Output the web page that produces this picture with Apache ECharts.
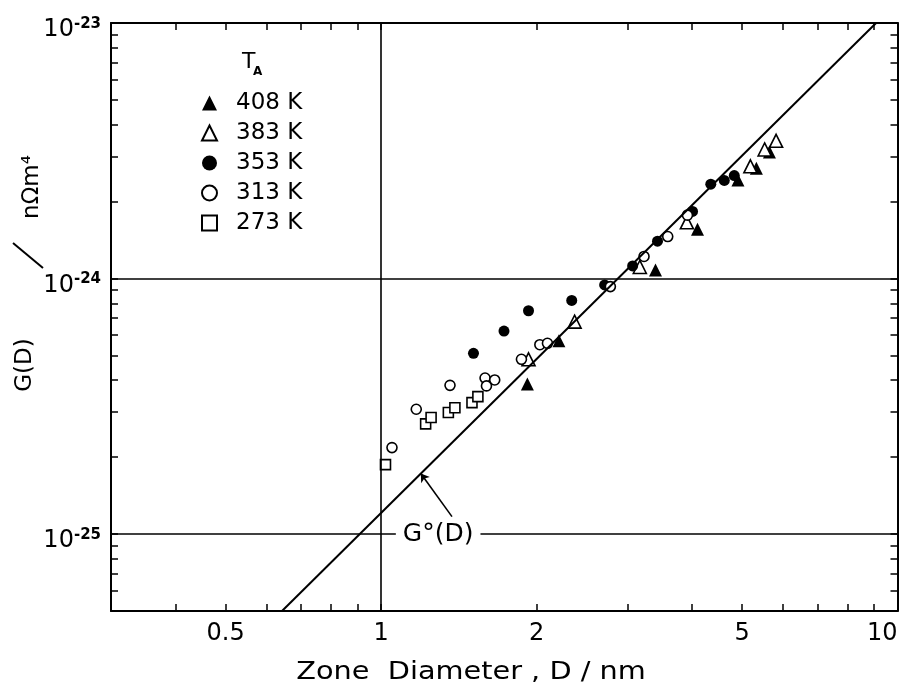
<!DOCTYPE html>
<html>
<head>
<meta charset="utf-8">
<script src="https://cdn.jsdelivr.net/npm/echarts@6/dist/echarts.min.js"></script>
<style>
  html, body { margin: 0; padding: 0; background: #fff; }
  #chart { width: 906px; height: 694px; }
</style>
</head>
<body>
<div id="chart"></div>
<script>
// zone diameter D / nm and G(D) / nΩm^4
const d408 = [1.92, 2.21, 3.40, 4.10, 4.91, 5.33, 5.65];
const g408 = [3.87e-25, 5.71e-25, 1.08e-24, 1.56e-24, 2.43e-24, 2.70e-24, 3.13e-24];

const d383 = [1.93, 2.37, 3.17, 3.91, 5.19, 5.53, 5.82];
const g383 = [4.83e-25, 6.78e-25, 1.11e-24, 1.66e-24, 2.75e-24, 3.20e-24, 3.46e-24];

const d353 = [1.51, 1.73, 1.93, 2.34, 2.71, 3.07, 3.43, 4.01, 4.35, 4.62, 4.83];
const g353 = [5.10e-25, 6.23e-25, 7.48e-25, 8.21e-25, 9.44e-25, 1.12e-24, 1.40e-24, 1.83e-24, 2.34e-24, 2.42e-24, 2.53e-24];

const d313 = [1.05, 1.17, 1.36, 1.59, 1.66, 1.60, 1.87, 2.03, 2.10, 2.78, 3.23, 3.59, 3.92];
const g313 = [2.18e-25, 3.08e-25, 3.82e-25, 4.08e-25, 4.01e-25, 3.80e-25, 4.83e-25, 5.51e-25, 5.58e-25, 9.30e-25, 1.22e-24, 1.46e-24, 1.77e-24];

const d273 = [1.02, 1.22, 1.25, 1.35, 1.39, 1.50, 1.54];
const g273 = [1.87e-25, 2.70e-25, 2.86e-25, 2.99e-25, 3.12e-25, 3.27e-25, 3.45e-25];

// G°(D) straight line, end points
const lineD = [0.643, 9.09];
const lineG = [5.0e-26, 1.0e-23];

// axes
const xMin = 0.3, xMax = 10;
const yMin = 5e-26, yMax = 1e-23;
const xTicks = [0.3, 0.4, 0.5, 0.6, 0.7, 0.8, 0.9, 1, 2, 3, 4, 5, 6, 7, 8, 9, 10];
const xLabels = [0.5, 1, 2, 5, 10];
const yLabels = [1e-25, 1e-24, 1e-23];
const gridD = [1];
const gridG = [1e-24, 1e-25];

const lg = Math.log10;
let yTicks = [];
[-26, -25, -24].forEach(n => {
  for (let k = 1; k <= 9; k++) yTicks.push(k * Math.pow(10, n));
});
yTicks.push(yMax);

const pts = (ds, gs) => ds.map((d, i) => [lg(d), lg(gs[i])]);

const FONT = 'DejaVu Sans';
const chart = echarts.init(document.getElementById('chart'));

const tickStyle = { inside: true, length: 7, lineStyle: { color: '#000', width: 1.5 } };
const axisLine = { show: true, onZero: false, lineStyle: { color: '#000', width: 2 } };

function xAxisOf(pos, withLabels) {
  return {
    type: 'value', position: pos,
    min: lg(xMin), max: lg(xMax),
    axisLine: axisLine,
    axisTick: Object.assign({ customValues: xTicks.map(lg) }, tickStyle),
    axisLabel: {
      show: withLabels,
      customValues: xLabels.map(lg),
      margin: 11,
      fontSize: 24, fontFamily: FONT, color: '#000',
      alignMaxLabel: 'right',
      formatter: v => String(+Math.pow(10, v).toPrecision(3))
    },
    splitLine: { show: false }
  };
}

function yAxisOf(pos, withLabels) {
  return {
    type: 'value', position: pos,
    min: lg(yMin), max: lg(yMax),
    axisLine: axisLine,
    axisTick: Object.assign({ customValues: yTicks.map(lg) }, tickStyle),
    axisLabel: {
      show: withLabels,
      customValues: yLabels.map(lg),
      margin: 10,
      padding: [14, 0, 0, 0],
      formatter: v => '{b|10}{s|' + Math.round(v) + '}',
      rich: {
        b: { fontSize: 24, fontFamily: FONT, color: '#000', lineHeight: 27 },
        s: { fontSize: 15, fontWeight: 'bold', fontFamily: FONT, color: '#000', verticalAlign: 'top', lineHeight: 15 }
      }
    },
    splitLine: { show: false }
  };
}

const openStyle = { color: '#fff', borderColor: '#000', borderWidth: 1.6, opacity: 1 };
const fillStyle = { color: '#000', opacity: 1 };

const option = {
  backgroundColor: '#fff',
  animation: false,
  grid: { left: 111, right: 8.5, top: 23, bottom: 83, containLabel: false, outerBoundsMode: 'none' },
  xAxis: [xAxisOf('bottom', true), xAxisOf('top', false)],
  yAxis: [yAxisOf('left', true), yAxisOf('right', false)],
  legend: {
    orient: 'vertical',
    left: 196, top: 86,
    itemWidth: 15, itemHeight: 15,
    itemGap: 6,
    selectedMode: false,
    textStyle: { fontSize: 23, fontFamily: FONT, color: '#000', lineHeight: 24, padding: [0, 0, 0, 14] },
    data: ['408 K', '383 K', '353 K', '313 K', '273 K']
  },
  graphic: [
    { type: 'text', x: 242, y: 51, style: { text: 'T', fontSize: 22, fontFamily: FONT, fill: '#000' } },
    { type: 'text', x: 253, y: 66, style: { text: 'A', fontSize: 12, fontWeight: 'bold', fontFamily: FONT, fill: '#000' } },
    {
      type: 'text', x: 471, y: 672, scaleX: 1.15,
      style: { text: 'Zone  Diameter , D / nm', fontSize: 25, fontFamily: FONT, fill: '#000', align: 'center', verticalAlign: 'middle' }
    },
    {
      type: 'text', x: 25, y: 365, rotation: Math.PI / 2,
      style: { text: 'G(D)', fontSize: 23, fontFamily: FONT, fill: '#000', align: 'center', verticalAlign: 'middle' }
    },
    { type: 'line', shape: { x1: 13, y1: 243, x2: 43, y2: 268 }, style: { stroke: '#000', lineWidth: 2 } },
    {
      type: 'text', x: 32, y: 187, rotation: Math.PI / 2,
      style: { text: 'nΩm⁴', fontSize: 23, fontFamily: FONT, fill: '#000', align: 'center', verticalAlign: 'middle' }
    }
  ],
  series: [
    {
      name: 'G0', type: 'line',
      data: pts(lineD, lineG),
      symbol: 'none', clip: true,
      lineStyle: { color: '#000', width: 2 },
      markLine: {
        silent: true, symbol: 'none',
        label: { show: false },
        lineStyle: { color: '#000', width: 1.6, type: 'solid' },
        data: [
          ...gridG.map(g => ({ yAxis: lg(g) })),
          ...gridD.map(d => ({ xAxis: lg(d) })),
          [
            { coord: [lg(1.372), lg(1.17e-25)], symbol: 'none' },
            { coord: [lg(1.194), lg(1.725e-25)], symbol: 'arrow', symbolSize: 8 }
          ]
        ]
      },
      markPoint: {
        silent: true, z: 10,
        symbol: 'rect', symbolSize: 1,
        itemStyle: { color: 'rgba(0,0,0,0)' },
        label: {
          show: true, position: 'inside',
          formatter: 'G°(D)',
          fontSize: 25, fontFamily: FONT, color: '#000',
          backgroundColor: '#fff', padding: [2, 7]
        },
        data: [{ coord: [lg(1.29), lg(1e-25)] }]
      }
    },
    { name: '408 K', type: 'scatter', symbol: 'triangle', symbolSize: 13, itemStyle: fillStyle, data: pts(d408, g408) },
    { name: '383 K', type: 'scatter', symbol: 'triangle', symbolSize: 13, itemStyle: openStyle, data: pts(d383, g383) },
    { name: '353 K', type: 'scatter', symbol: 'circle', symbolSize: 11, itemStyle: fillStyle, data: pts(d353, g353) },
    { name: '313 K', type: 'scatter', symbol: 'circle', symbolSize: 10, itemStyle: openStyle, data: pts(d313, g313) },
    { name: '273 K', type: 'scatter', symbol: 'rect', symbolSize: 10, itemStyle: openStyle, data: pts(d273, g273) }
  ]
};

chart.setOption(option);
</script>
</body>
</html>
